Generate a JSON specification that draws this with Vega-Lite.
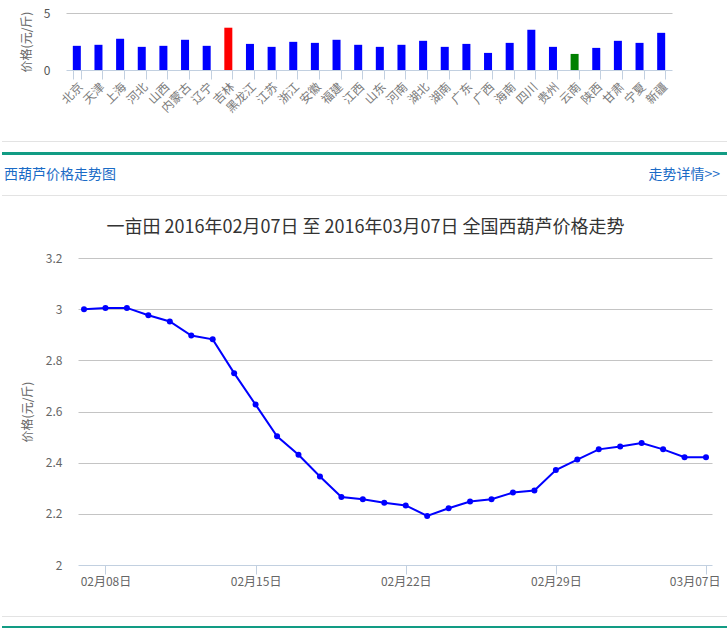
{
  "$schema": "https://vega.github.io/schema/vega-lite/v6.json",
  "padding": {"left": 0, "top": 7, "right": 0, "bottom": 0},
  "spacing": 0,
  "bounds": "flush",
  "config": {
    "view": {"stroke": null},
    "font": "Noto Sans CJK SC",
    "axis": {"labelFont": "Noto Sans CJK SC", "titleFont": "Noto Sans CJK SC", "titleFontWeight": "normal", "titleColor": "#666", "titleFontSize": 12, "labelFontSize": 12}
  },
  "vconcat": [
    {
      "width": 727,
      "height": 57,
      "data": {"values": [
        {"province": "北京", "price": 2.12, "level": "其他"},
        {"province": "天津", "price": 2.21, "level": "其他"},
        {"province": "上海", "price": 2.74, "level": "其他"},
        {"province": "河北", "price": 2.03, "level": "其他"},
        {"province": "山西", "price": 2.12, "level": "其他"},
        {"province": "内蒙古", "price": 2.65, "level": "其他"},
        {"province": "辽宁", "price": 2.12, "level": "其他"},
        {"province": "吉林", "price": 3.71, "level": "最高"},
        {"province": "黑龙江", "price": 2.29, "level": "其他"},
        {"province": "江苏", "price": 2.03, "level": "其他"},
        {"province": "浙江", "price": 2.47, "level": "其他"},
        {"province": "安徽", "price": 2.38, "level": "其他"},
        {"province": "福建", "price": 2.65, "level": "其他"},
        {"province": "江西", "price": 2.21, "level": "其他"},
        {"province": "山东", "price": 2.03, "level": "其他"},
        {"province": "河南", "price": 2.21, "level": "其他"},
        {"province": "湖北", "price": 2.56, "level": "其他"},
        {"province": "湖南", "price": 2.03, "level": "其他"},
        {"province": "广东", "price": 2.29, "level": "其他"},
        {"province": "广西", "price": 1.5, "level": "其他"},
        {"province": "海南", "price": 2.38, "level": "其他"},
        {"province": "四川", "price": 3.53, "level": "其他"},
        {"province": "贵州", "price": 2.03, "level": "其他"},
        {"province": "云南", "price": 1.41, "level": "最低"},
        {"province": "陕西", "price": 1.94, "level": "其他"},
        {"province": "甘肃", "price": 2.56, "level": "其他"},
        {"province": "宁夏", "price": 2.38, "level": "其他"},
        {"province": "新疆", "price": 3.26, "level": "其他"}
      ]},
      "mark": {"type": "bar"},
      "encoding": {
        "x": {
          "field": "province", "type": "nominal", "sort": null,
          "scale": {"range": [64, 670], "paddingInner": 0.63, "paddingOuter": 0.315},
          "axis": {"title": null, "labelAngle": -45, "tickBand": "extent", "tickSize": 9, "domainColor": "#c2d0e0", "tickColor": "#c2d0e0", "labelColor": "#7a7a7a", "labelPadding": 2, "grid": false}
        },
        "y": {
          "field": "price", "type": "quantitative",
          "scale": {"domain": [0, 5], "nice": false},
          "axis": {"title": "价格(元/斤)", "values": [0, 5], "offset": -64, "domain": false, "ticks": false, "labelPadding": 16, "labelColor": "#555", "titlePadding": 10, "gridColor": "#c4c4c4", "gridOpacity": {"condition": {"test": "datum.value == 0", "value": 0}, "value": 1}}
        },
        "color": {"field": "level", "type": "nominal", "scale": {"domain": ["最高", "最低", "其他"], "range": ["#ff0000", "#008000", "#0000ff"]}, "legend": null}
      }
    },
    {
      "width": 727,
      "height": 188,
      "data": {"values": [{"header": "西葫芦价格走势图", "link": "走势详情>>"}]},
      "layer": [
        {"mark": {"type": "rule", "color": "#e3e3e3", "strokeWidth": 1}, "encoding": {"y": {"datum": 71.5, "type": "quantitative", "scale": {"domain": [0, 188], "reverse": true, "nice": false}, "axis": null}}},
        {"mark": {"type": "rule", "color": "#129c84", "strokeWidth": 3}, "encoding": {"y": {"datum": 83.5, "type": "quantitative"}}},
        {"mark": {"type": "rule", "color": "#e3e3e3", "strokeWidth": 1}, "encoding": {"y": {"datum": 125.5, "type": "quantitative"}}},
        {"mark": {"type": "text", "align": "left", "baseline": "middle", "fontSize": 14, "color": "#1a6bc6"}, "encoding": {"text": {"field": "header"}, "x": {"datum": 2, "type": "quantitative", "scale": {"domain": [0, 727], "nice": false}, "axis": null}, "y": {"datum": 105, "type": "quantitative"}}},
        {"mark": {"type": "text", "align": "right", "baseline": "middle", "fontSize": 14, "color": "#1a6bc6"}, "encoding": {"text": {"field": "link"}, "x": {"datum": 718, "type": "quantitative"}, "y": {"datum": 105, "type": "quantitative"}}}
      ]
    },
    {
      "width": 727,
      "height": 307,
      "title": {"text": "一亩田 2016年02月07日 至 2016年03月07日 全国西葫芦价格走势", "fontSize": 18, "fontWeight": "normal", "color": "#333", "offset": 15, "anchor": "middle", "frame": "group", "font": "Noto Sans CJK SC"},
      "data": {"values": [
        {"date": "02月07日", "price": 3.0},
        {"date": "02月08日", "price": 3.005},
        {"date": "02月09日", "price": 3.005},
        {"date": "02月10日", "price": 2.976},
        {"date": "02月11日", "price": 2.952},
        {"date": "02月12日", "price": 2.897},
        {"date": "02月13日", "price": 2.882},
        {"date": "02月14日", "price": 2.75},
        {"date": "02月15日", "price": 2.627},
        {"date": "02月16日", "price": 2.503},
        {"date": "02月17日", "price": 2.431},
        {"date": "02月18日", "price": 2.346},
        {"date": "02月19日", "price": 2.266},
        {"date": "02月20日", "price": 2.257},
        {"date": "02月21日", "price": 2.243},
        {"date": "02月22日", "price": 2.233},
        {"date": "02月23日", "price": 2.192},
        {"date": "02月24日", "price": 2.222},
        {"date": "02月25日", "price": 2.248},
        {"date": "02月26日", "price": 2.257},
        {"date": "02月27日", "price": 2.283},
        {"date": "02月28日", "price": 2.291},
        {"date": "02月29日", "price": 2.371},
        {"date": "03月01日", "price": 2.412},
        {"date": "03月02日", "price": 2.452},
        {"date": "03月03日", "price": 2.463},
        {"date": "03月04日", "price": 2.477},
        {"date": "03月05日", "price": 2.452},
        {"date": "03月06日", "price": 2.421},
        {"date": "03月07日", "price": 2.421}
      ]},
      "encoding": {
        "x": {
          "field": "date", "type": "ordinal", "sort": null,
          "scale": {"type": "point", "range": [76, 710], "padding": 0.28},
          "axis": {"title": null, "values": ["02月08日", "02月15日", "02月22日", "02月29日", "03月07日"], "labelAngle": 0, "tickSize": 9, "domainColor": "#c2d0e0", "tickColor": "#c2d0e0", "labelColor": "#666", "labelPadding": 2, "labelFlush": 10, "labelFlushOffset": 14, "grid": false}
        },
        "y": {
          "field": "price", "type": "quantitative",
          "scale": {"domain": [2, 3.2], "nice": false, "zero": false},
          "axis": {"title": "价格(元/斤)", "values": [2, 2.2, 2.4, 2.6, 2.8, 3, 3.2], "format": "~g", "offset": -76, "domain": false, "ticks": false, "labelPadding": 16, "labelColor": "#666", "titlePadding": 11, "gridColor": "#c4c4c4", "gridOpacity": {"condition": {"test": "datum.value == 2", "value": 0}, "value": 1}}
        }
      },
      "layer": [
        {"mark": {"type": "line", "color": "#0000ff", "strokeWidth": 2}},
        {"mark": {"type": "point", "filled": true, "color": "#0000ff", "size": 36, "opacity": 1}}
      ]
    },
    {
      "width": 727,
      "height": 63,
      "data": {"values": [{"part": "footer"}]},
      "layer": [
        {"mark": {"type": "rule", "color": "#e3e3e3", "strokeWidth": 1}, "encoding": {"y": {"datum": 51.5, "type": "quantitative", "scale": {"domain": [0, 63], "reverse": true, "nice": false}, "axis": null}}},
        {"mark": {"type": "rule", "color": "#129c84", "strokeWidth": 2}, "encoding": {"y": {"datum": 62, "type": "quantitative"}}}
      ]
    }
  ]
}
